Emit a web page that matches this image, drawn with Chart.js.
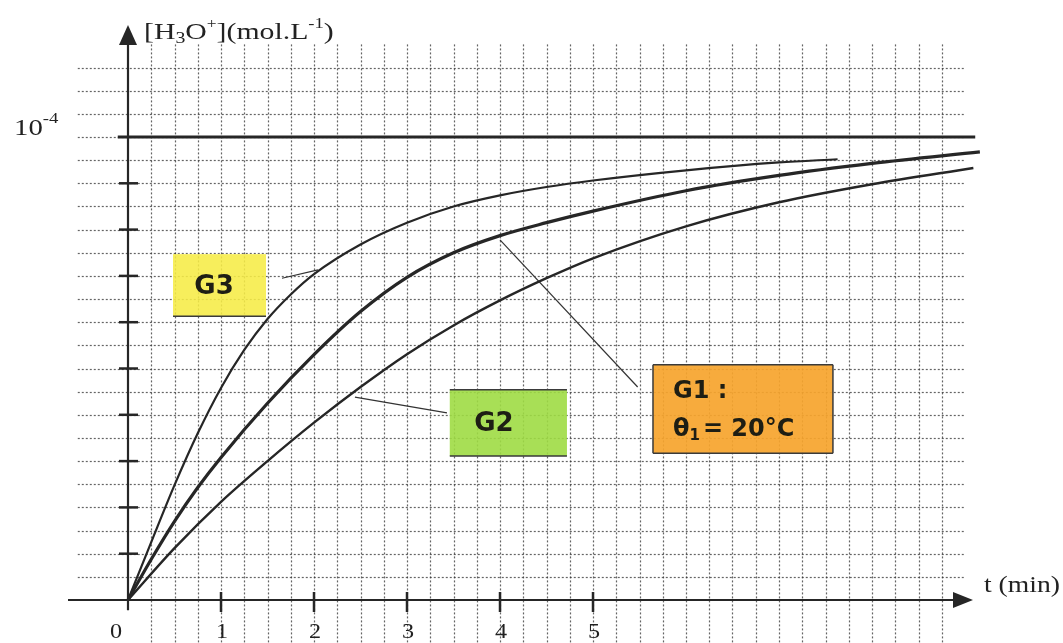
<!DOCTYPE html>
<html><head><meta charset="utf-8">
<script src="https://cdn.jsdelivr.net/npm/chart.js@4.4.0/dist/chart.umd.min.js"></script>
<style>html,body{margin:0;padding:0;background:#fff;overflow:hidden}</style>
</head><body>
<canvas id="c" width="1063" height="643"></canvas>
<script>
// Concentrations in units of 10^-4 mol/L, time in minutes
const timeG3 = [0, 0.25, 0.5, 0.75, 1.0, 1.25, 1.5, 1.75, 2.0, 2.5, 3.0, 3.5, 4.0, 4.5, 5.0, 6.0, 7.0, 7.63];
const concG3 = [0, 0.125, 0.248, 0.36, 0.458, 0.54, 0.607, 0.66, 0.704, 0.768, 0.815, 0.850, 0.874, 0.892, 0.906, 0.928, 0.945, 0.952];
const timeG1 = [0, 0.25, 0.5, 0.75, 1.0, 1.5, 2.0, 2.5, 3.0, 3.5, 4.0, 4.5, 5.0, 6.0, 7.0, 8.0, 9.16];
const concG1 = [0, 0.088, 0.17, 0.243, 0.308, 0.425, 0.530, 0.623, 0.697, 0.750, 0.787, 0.815, 0.840, 0.884, 0.917, 0.943, 0.968];
const timeG2 = [0, 0.5, 1.0, 1.5, 2.0, 2.5, 3.0, 3.5, 4.0, 4.5, 5.0, 6.0, 7.0, 8.0, 9.09];
const concG2 = [0, 0.112, 0.212, 0.300, 0.383, 0.460, 0.531, 0.593, 0.647, 0.695, 0.738, 0.807, 0.859, 0.898, 0.933];
const limitTime = [-0.11, 9.11];
const limitConc = [1, 1];
const xTickValues = [0, 1, 2, 3, 4, 5];
const xTickLabels = ['0', '1', '2', '3', '4', '5'];
const yTickValues = [0.1, 0.2, 0.3, 0.4, 0.5, 0.6, 0.7, 0.8, 0.9];
const curveNames = ['G1', 'G2', 'G3'];

const pts = (ts, cs) => ts.map((t, i) => ({x: t, y: cs[i]}));
const INK = '#262626';
const SERIF = '"Liberation Serif", serif';
const SANS = '"DejaVu Sans", sans-serif';

function rich(ctx, x, y, segs, sx) {
  ctx.save();
  ctx.translate(x, y);
  ctx.scale(sx || 1, 1);
  let cx = 0;
  for (const s of segs) {
    ctx.font = (s.w || '') + ' ' + s.size + 'px ' + (s.f || SERIF);
    ctx.fillText(s.t, cx, s.dy || 0);
    cx += ctx.measureText(s.t).width + (s.gap || 0);
  }
  ctx.restore();
}

const paper = {
  id: 'paper',
  beforeDatasetsDraw(chart) {
    const {ctx, scales: {x, y}} = chart;
    const X = v => x.getPixelForValue(v), Y = v => y.getPixelForValue(v);
    ctx.save();
    // dotted grid
    ctx.strokeStyle = 'rgba(50,50,50,0.75)';
    ctx.lineWidth = 1.2;
    ctx.setLineDash([2, 2]);
    for (let k = 1; k <= 23; k++) {
      const yy = Math.round(Y(k * 0.05)) + 0.5;
      ctx.beginPath(); ctx.moveTo(X(-0.54), yy); ctx.lineTo(X(9.0), yy); ctx.stroke();
    }
    for (let k = 1; k <= 35; k++) {
      const xx = Math.round(X(k * 0.25)) + 0.5;
      ctx.beginPath(); ctx.moveTo(xx, Y(1.2)); ctx.lineTo(xx, Y(-0.095)); ctx.stroke();
    }
    ctx.setLineDash([]);
    // label boxes
    const boxes = [
      {t0: 0.484, t1: 1.484, c0: 0.747, c1: 0.613, fill: 'rgba(246,236,70,0.88)', edges: 'b'},
      {t0: 3.46, t1: 4.72, c0: 0.454, c1: 0.311, fill: 'rgba(158,220,68,0.9)', edges: 'tb'},
      {t0: 5.645, t1: 7.58, c0: 0.508, c1: 0.317, fill: 'rgba(246,164,44,0.92)', edges: 'tblr'}
    ];
    for (const b of boxes) {
      const x0 = X(b.t0), x1 = X(b.t1), y0 = Y(b.c0), y1 = Y(b.c1);
      ctx.fillStyle = b.fill;
      ctx.fillRect(x0, y0, x1 - x0, y1 - y0);
      ctx.strokeStyle = '#3a3a3a'; ctx.lineWidth = 1.5;
      ctx.beginPath();
      if (b.edges.includes('t')) { ctx.moveTo(x0, y0); ctx.lineTo(x1, y0); }
      if (b.edges.includes('b')) { ctx.moveTo(x0, y1); ctx.lineTo(x1, y1); }
      if (b.edges.includes('l')) { ctx.moveTo(x0, y0); ctx.lineTo(x0, y1); }
      if (b.edges.includes('r')) { ctx.moveTo(x1, y0); ctx.lineTo(x1, y1); }
      ctx.stroke();
    }
    // axes
    ctx.strokeStyle = INK; ctx.fillStyle = INK; ctx.lineWidth = 2.2;
    ctx.beginPath(); ctx.moveTo(X(-0.645), Y(0)); ctx.lineTo(X(8.95), Y(0)); ctx.stroke();
    ctx.beginPath(); ctx.moveTo(X(0), Y(-0.022)); ctx.lineTo(X(0), Y(1.2)); ctx.stroke();
    // arrows
    ctx.beginPath();
    ctx.moveTo(X(9.086), Y(0)); ctx.lineTo(X(9.086) - 20, Y(0) - 8); ctx.lineTo(X(9.086) - 20, Y(0) + 8); ctx.closePath(); ctx.fill();
    ctx.beginPath();
    ctx.moveTo(X(0), Y(1.242)); ctx.lineTo(X(0) - 9, Y(1.242) + 20); ctx.lineTo(X(0) + 9, Y(1.242) + 20); ctx.closePath(); ctx.fill();
    // ticks
    ctx.lineWidth = 2.5;
    for (const v of xTickValues) {
      if (v === 0) continue;
      ctx.beginPath(); ctx.moveTo(X(v), Y(0) - 8); ctx.lineTo(X(v), Y(0) + 12); ctx.stroke();
    }
    for (const v of yTickValues) {
      ctx.beginPath(); ctx.moveTo(X(0) - 9, Y(v)); ctx.lineTo(X(0) + 10, Y(v)); ctx.stroke();
    }
    ctx.restore();
  },
  afterDatasetsDraw(chart) {
    const {ctx, scales: {x, y}} = chart;
    const X = v => x.getPixelForValue(v), Y = v => y.getPixelForValue(v);
    ctx.save();
    ctx.fillStyle = '#222';
    // x tick labels
    ctx.textBaseline = 'middle';
    ctx.textAlign = 'center';
    xTickLabels.forEach((lab, i) => {
      const off = xTickValues[i] === 0 ? -12 : 1;
      rich(ctx, X(xTickValues[i]) + off, Y(0) + 32, [{t: lab, size: 22}], 1.1);
    });
    ctx.textAlign = 'left';
    ctx.textBaseline = 'alphabetic';
    // y label 10^-4
    rich(ctx, 14, Y(1) - 2, [{t: '10', size: 23}, {t: '-4', size: 15, dy: -12}], 1.25);
    // axis titles
    rich(ctx, 144, 39, [
      {t: '[H', size: 24}, {t: '3', size: 16, dy: 4}, {t: 'O', size: 24},
      {t: '+', size: 14, dy: -11}, {t: '](mol.L', size: 24}, {t: '-1', size: 15, dy: -11}, {t: ')', size: 24}
    ], 1.24);
    rich(ctx, 984, Y(0) - 8, [{t: 't (min)', size: 23}], 1.2);
    // box labels
    ctx.fillStyle = '#1e1e14';
    ctx.textBaseline = 'middle';
    ctx.font = 'bold 26px ' + SANS;
    ctx.textAlign = 'center';
    ctx.fillText(curveNames[2], X(0.925), Y(0.676));
    ctx.fillText(curveNames[1], X(3.935), Y(0.38));
    ctx.textAlign = 'left';
    ctx.font = 'bold 24px ' + SANS;
    ctx.fillText(curveNames[0] + ' :', X(5.86), Y(0.449));
    rich(ctx, X(5.86), Y(0.367), [
      {t: 'θ', size: 24, w: 'bold', f: SANS}, {t: '1', size: 15, w: 'bold', f: SANS, dy: 6, gap: 3},
      {t: '= 20°C', size: 24, w: 'bold', f: SANS}
    ], 1);
    ctx.restore();
  }
};

const curveStyle = (w) => ({
  borderColor: INK, borderWidth: w, showLine: true, pointRadius: 0, fill: false,
  cubicInterpolationMode: 'monotone'
});
const leader = (a, b) => ({
  data: [a, b], borderColor: '#333', borderWidth: 1.2, showLine: true, pointRadius: 0, fill: false
});

new Chart(document.getElementById('c'), {
  type: 'scatter',
  data: {
    datasets: [
      Object.assign({label: 'limit', data: pts(limitTime, limitConc)}, curveStyle(3)),
      Object.assign({label: curveNames[0], data: pts(timeG1, concG1)}, curveStyle(3.2)),
      Object.assign({label: curveNames[1], data: pts(timeG2, concG2)}, curveStyle(2.4)),
      Object.assign({label: curveNames[2], data: pts(timeG3, concG3)}, curveStyle(2.2)),
      Object.assign({label: 'G3 leader'}, leader({x: 1.656, y: 0.695}, {x: 2.043, y: 0.713})),
      Object.assign({label: 'G2 leader'}, leader({x: 2.44, y: 0.438}, {x: 3.43, y: 0.404})),
      Object.assign({label: 'G1 leader'}, leader({x: 4.0, y: 0.778}, {x: 5.48, y: 0.46}))
    ]
  },
  options: {
    responsive: false, animation: false, devicePixelRatio: 1,
    layout: {padding: 0, autoPadding: false},
    plugins: {legend: {display: false}, tooltip: {enabled: false}, title: {display: false}},
    scales: {
      x: {type: 'linear', display: false, min: -128 / 93, max: (1063 - 128) / 93},
      y: {type: 'linear', display: false, min: -43 / 463, max: 600 / 463}
    }
  },
  plugins: [paper]
});
</script>
</body></html>
